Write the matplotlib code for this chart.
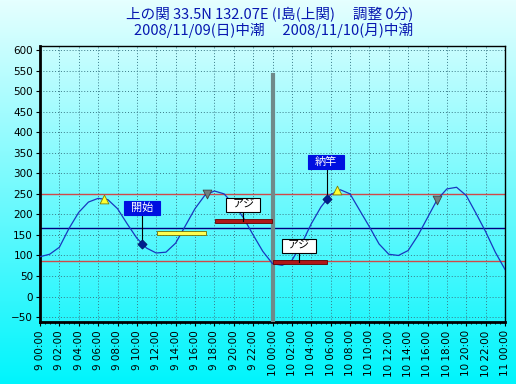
import numpy as np
import matplotlib
matplotlib.use("Agg")
import matplotlib.pyplot as plt
from matplotlib.patches import Rectangle
from matplotlib.ticker import MultipleLocator

plt.rcParams['font.family'] = ['DejaVu Sans', 'Noto Sans CJK JP']

# title text
TITLE_1 = "上の関 33.5N 132.07E (I島(上関)　 調整 0分)"
TITLE_2 = "2008/11/09(日)中潮　 2008/11/10(月)中潮"

# tide level, hourly from 2008/11/09 00:00 (cm)
hours = list(range(49))
tide = [97, 103, 120, 166, 205, 230, 239, 236, 214, 177, 142, 118, 106, 108, 130,
        172, 214, 246, 257, 250, 224, 192, 150, 110, 80, 76, 88, 128, 177, 218,
        248, 260, 250, 210, 170, 128, 103, 100, 112, 148, 192, 236, 262, 266, 246,
        203, 158, 108, 66]

# reference levels
red_levels = [250, 87]
blue_level = 167

# triangles
up_t = [6.6, 30.7]
up_v = [238, 259]
down_t = [17.2, 41.0]
down_v = [250, 236]

# start / end fishing
event_names = ["開始", "納竿"]
event_t = [10.55, 29.6]
event_v = [127, 237]
event_label_t = [10.55, 29.5]
event_label_v = [216, 328]

# catches
catch_names = ["アジ", "アジ"]
catch_start = [18.1, 24.0]
catch_end = [23.9, 29.6]
catch_v = [185, 83]
catch_label_t = [21.0, 26.7]
catch_label_v = [224, 123]

# other period bar
yellow_start = 12.1
yellow_end = 17.1
yellow_v = 154

now_t = 24
now_top = 540

W, H = 516, 384
fig = plt.figure(figsize=(W / 100, H / 100), dpi=100)

# background gradient
bg = fig.add_axes([0, 0, 1, 1], zorder=-10)
g = np.linspace(0, 1, 256)[:, None]
top = np.array([0.90, 1.0, 1.0])
bot = np.array([0.0, 0.96, 0.99])
img = top[None, None, :] * (1 - g[:, :, None]) + bot[None, None, :] * g[:, :, None]
bg.imshow(img, aspect='auto', extent=[0, 1, 0, 1])
bg.axis('off')

left, right, ytop, ybot = 40, 505, 46, 322
ax = fig.add_axes([left / W, 1 - ybot / H, (right - left) / W, (ybot - ytop) / H])
ax.patch.set_alpha(0)
ax.set_xlim(0, 48)
ax.set_ylim(-62, 610)

pxx = 48 / (right - left)
pxy = 672 / (ybot - ytop)

ax.xaxis.set_minor_locator(MultipleLocator(0.5))
ax.set_yticks(range(-50, 601, 50))
xt = list(range(0, 49, 2))
ax.set_xticks(xt)
ax.set_xticklabels([f"{9 + h // 24} {h % 24:02d}:00" for h in xt], rotation=90,
                   fontsize=7.5)
ax.tick_params(axis='y', labelsize=7.5, length=3, width=0.8, pad=2)
ax.tick_params(axis='x', which='major', length=3, width=0.8, pad=3)
ax.tick_params(axis='x', which='minor', length=1.5, width=0.6)
ax.grid(True, which='major', color='#3a7a88', linestyle=(0, (1, 2)), linewidth=0.7)
ax.set_axisbelow(True)

for s in ['left', 'bottom']:
    ax.spines[s].set_linewidth(2)
for s in ['top', 'right']:
    ax.spines[s].set_linewidth(1)

for lv in red_levels:
    ax.axhline(lv, color='#d04848', lw=1, zorder=2)
ax.axhline(blue_level, color='#000080', lw=1, zorder=2)

ax.plot([now_t, now_t], [-62, now_top], color='#6f8a8a', lw=3, zorder=3)

ax.plot(hours, tide, color='#1838c0', lw=0.9, zorder=4)

ax.scatter(up_t, up_v, marker='^', s=40, c='#ffff30', edgecolors='#808000',
           linewidths=0.6, zorder=6)
ax.scatter(down_t, down_v, marker='v', s=40, c='#708080', edgecolors='#404040',
           linewidths=0.6, zorder=6)

# yellow bar
bh = 4 * pxy
ax.add_patch(Rectangle((yellow_start, yellow_v - bh / 2), yellow_end - yellow_start, bh,
                       fc='#ffff50', ec='#707000', lw=0.6, zorder=5))

# catches
for name, t0, t1, v, lt, lv in zip(catch_names, catch_start, catch_end, catch_v,
                                   catch_label_t, catch_label_v):
    ax.add_patch(Rectangle((t0, v - bh / 2), t1 - t0, bh, fc='#b01818', ec='#600000',
                           lw=0.6, zorder=5))
    bw, bhh = 34 * pxx, 14 * pxy
    ax.plot([lt, lt], [v, lv - bhh / 2], color='black', lw=0.8, zorder=5)
    ax.add_patch(Rectangle((lt - bw / 2, lv - bhh / 2), bw, bhh, fc='white', ec='black',
                           lw=0.8, zorder=7))
    ax.text(lt, lv, name, ha='center', va='center', fontsize=8, color='black',
            family=['Noto Sans CJK JP'], zorder=8)

# start / end
for name, t, v, lt, lv in zip(event_names, event_t, event_v, event_label_t,
                              event_label_v):
    bw, bhh = 36 * pxx, 14 * pxy
    ax.plot([t, t], [v, lv - bhh / 2], color='black', lw=0.8, zorder=5)
    ax.add_patch(Rectangle((lt - bw / 2, lv - bhh / 2), bw, bhh, fc='#0010e0',
                           ec='#0010e0', lw=0.8, zorder=7))
    ax.text(lt, lv, name, ha='center', va='center', fontsize=8, color='white',
            family=['Noto Sans CJK JP'], zorder=8)
ax.scatter(event_t, event_v, marker='D', s=22, c='#002090', edgecolors='#001060',
           linewidths=0.5, zorder=6)

fig.text(413 / W, 1 - 15 / H, TITLE_1, ha='right', va='center', fontsize=10.5,
         color='#0818b0', family=['Noto Sans CJK JP', 'DejaVu Sans'])
fig.text(413 / W, 1 - 31 / H, TITLE_2, ha='right', va='center', fontsize=10.5,
         color='#0818b0', family=['Noto Sans CJK JP', 'DejaVu Sans'])

fig.savefig("out.png", dpi=100)
